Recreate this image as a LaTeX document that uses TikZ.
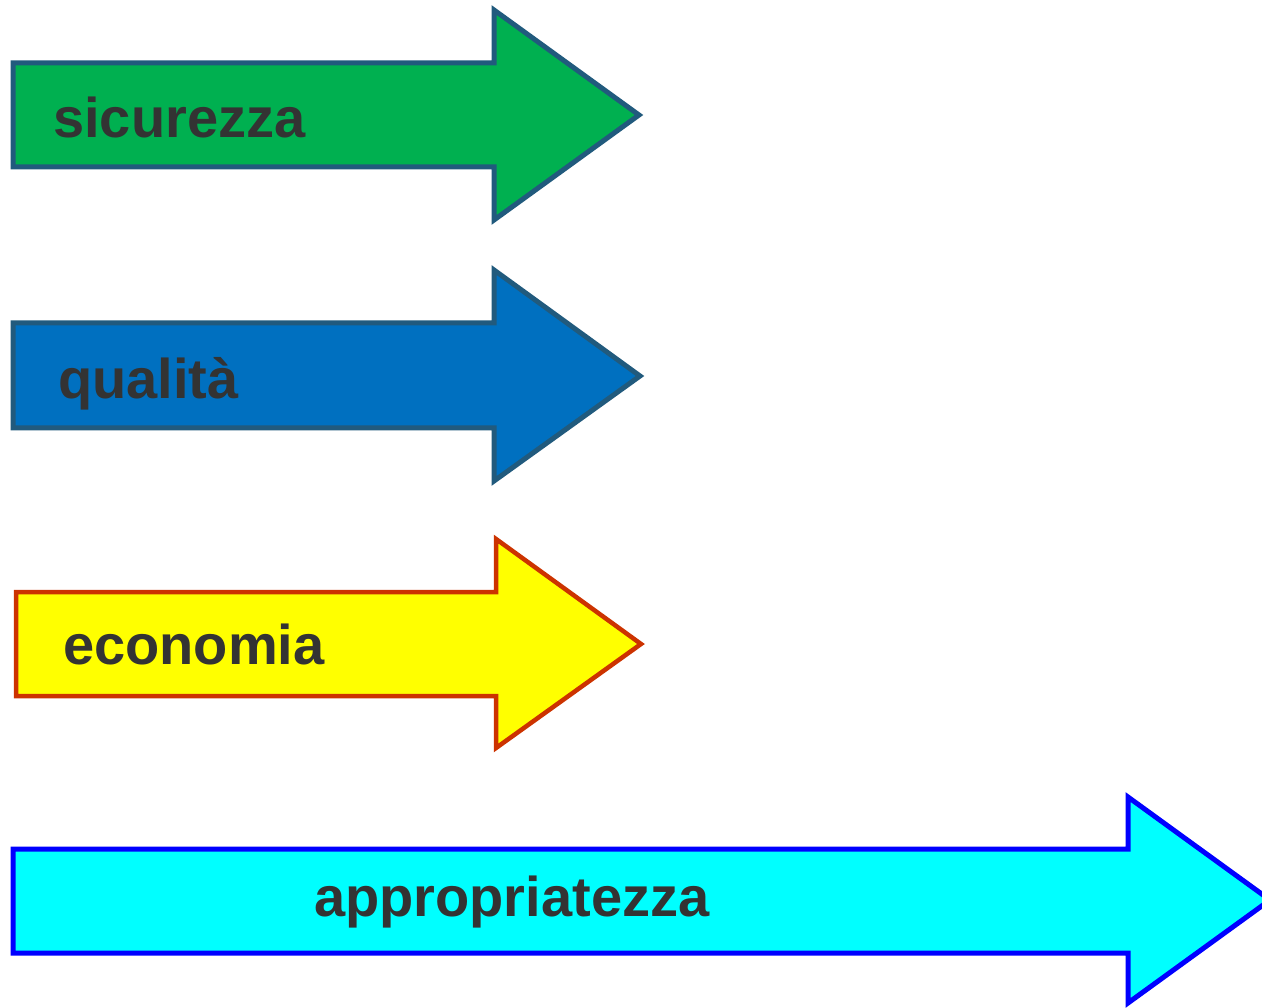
\documentclass[tikz,border=0pt]{standalone}
\usepackage{fontspec}
\setmainfont{Liberation Sans}
\definecolor{grfill}{HTML}{00B050}
\definecolor{blfill}{HTML}{0070C0}
\definecolor{dkedge}{HTML}{215A7D}
\definecolor{yefill}{HTML}{FFFF00}
\definecolor{yeedge}{HTML}{CC3300}
\definecolor{cyfill}{HTML}{00FFFF}
\definecolor{cyedge}{HTML}{0000FF}
\definecolor{txt}{HTML}{333333}
\begin{document}
\begin{tikzpicture}[x=1pt,y=-1pt,
  arrowshape/.style={line width=5pt,line join=miter},
  lbl/.style={anchor=base west,inner sep=0pt,text=txt,font=\fontsize{56}{60}\selectfont\bfseries}]
\useasboundingbox (0,0) rectangle (1262,1008);
% green
\draw[arrowshape,fill=grfill,draw=dkedge] (13,63) -- (494,63) -- (494,10) -- (639,115) -- (494,220) -- (494,167) -- (13,167) -- cycle;
\node[lbl] (sic) at (53,138) {sicurezza};
% blue
\draw[arrowshape,fill=blfill,draw=dkedge] (13,323) -- (494,323) -- (494,270) -- (640,376) -- (494,481) -- (494,428) -- (13,428) -- cycle;
\node[lbl] (qua) at (58,399) {qualità};
% yellow
\draw[arrowshape,line width=4.5pt,fill=yefill,draw=yeedge] (16,592) -- (496,592) -- (496,539) -- (641,644) -- (496,748) -- (496,696) -- (16,696) -- cycle;
\node[lbl] (eco) at (63,664) {economia};
% cyan
\draw[arrowshape,fill=cyfill,draw=cyedge] (13,849) -- (1128,849) -- (1128,797) -- (1270,900) -- (1128,1003) -- (1128,953) -- (13,953) -- cycle;
\node[lbl] (app) at (314,916) {appropriatezza};
\end{tikzpicture}
\end{document}
